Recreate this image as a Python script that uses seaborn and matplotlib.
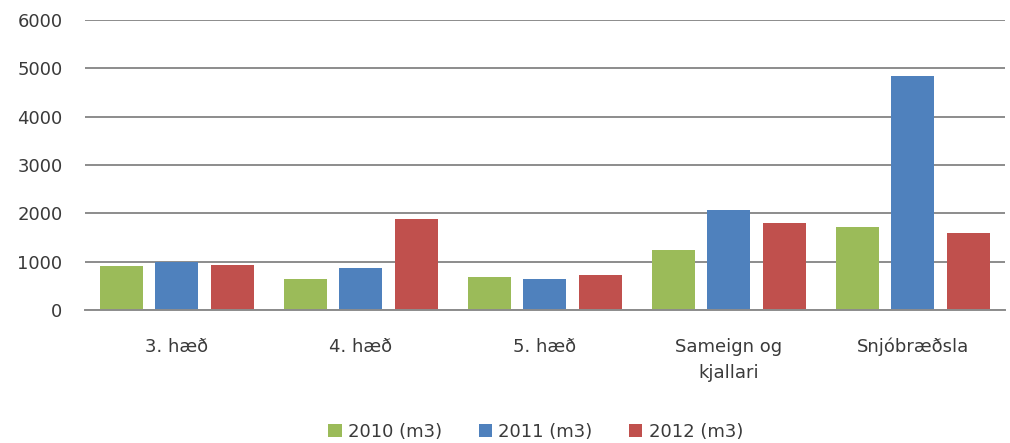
import matplotlib
matplotlib.use("Agg")
import matplotlib.pyplot as plt
import seaborn as sns
import pandas as pd

categories = ["3. hæð", "4. hæð", "5. hæð", "Sameign og\nkjallari", "Snjóbræðsla"]
series = ["2010 (m3)", "2011 (m3)", "2012 (m3)"]
v2010 = [920, 640, 680, 1240, 1720]
v2011 = [1000, 880, 640, 2080, 4850]
v2012 = [930, 1890, 720, 1800, 1600]
colors = ["#9BBB59", "#4F81BD", "#C0504D"]

df = pd.DataFrame({
    "cat": categories * 3,
    "year": [s for s in series for _ in categories],
    "val": v2010 + v2011 + v2012,
})

sns.set_style("white")
plt.rcParams["font.family"] = ["DejaVu Sans"]

fig = plt.figure(figsize=(10.1, 4.43), dpi=100)
ax = fig.add_axes([0.084, 0.30, 0.911, 0.655])

sns.barplot(data=df, x="cat", y="val", hue="year", palette=colors,
            width=0.90, gap=0.22, ax=ax, linewidth=0, saturation=1)

ax.set_ylim(0, 6000)
ax.set_yticks(range(0, 6001, 1000))
ax.yaxis.grid(True, color="#8c8c8c", linewidth=1.4)
ax.set_axisbelow(True)
for s in ["top", "right", "left"]:
    ax.spines[s].set_visible(False)
ax.spines["bottom"].set_color("#8c8c8c")
ax.spines["bottom"].set_linewidth(1.4)
ax.tick_params(axis="both", length=0, labelsize=13, colors="#3a3a3a")
ax.tick_params(axis="x", pad=20)
ax.tick_params(axis="y", pad=16)
for t in ax.get_xticklabels():
    t.set_linespacing(1.55)
    t.set_verticalalignment("top")
ax.set_xlabel("")
ax.set_ylabel("")

ax.legend(loc="center", bbox_to_anchor=(0.49, -0.42), ncol=3, frameon=False,
          fontsize=13, handlelength=0.75, handleheight=0.75, columnspacing=2.0,
          handletextpad=0.35, labelcolor="#3a3a3a")

fig.savefig("out.png", dpi=100)
